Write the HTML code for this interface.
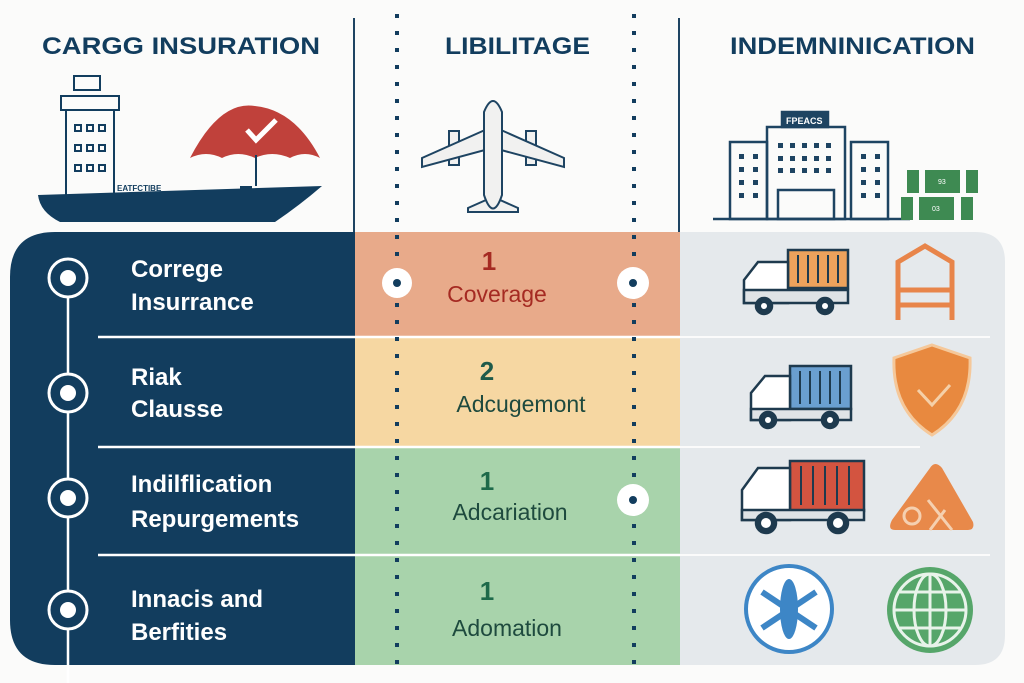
<!DOCTYPE html>
<html><head><meta charset="utf-8"><style>
body{margin:0;width:1024px;height:683px;background:#fbfbfa;overflow:hidden;font-family:"Liberation Sans",sans-serif;}
svg{position:absolute;left:0;top:0}
</style></head><body>
<svg width="1024" height="683" viewBox="0 0 1024 683">
<line x1="354" y1="18" x2="354" y2="232" stroke="#1e4462" stroke-width="2"/>
<line x1="679" y1="18" x2="679" y2="232" stroke="#1e4462" stroke-width="2"/>
<g font-weight="bold" font-size="24" fill="#123d5e">
<text x="42" y="54" textLength="278" lengthAdjust="spacingAndGlyphs">CARGG INSURATION</text>
<text x="445" y="54" textLength="145" lengthAdjust="spacingAndGlyphs">LIBILITAGE</text>
<text x="730" y="54" textLength="245" lengthAdjust="spacingAndGlyphs">INDEMNINICATION</text>
</g>
<path d="M38 195 L322 186 Q300 205 275 222 L60 222 Q40 212 38 195Z" fill="#123d5e"/>
<rect x="240" y="186" width="12" height="5" fill="#123d5e"/>
<g fill="none" stroke="#123d5e" stroke-width="2">
<rect x="74" y="76" width="26" height="14"/>
<rect x="61" y="96" width="58" height="14"/>
<path d="M66 110 L66 195 M114 110 L114 195"/>
</g>
<g fill="none" stroke="#123d5e" stroke-width="2">
<rect x="75" y="125" width="6" height="6"/><rect x="87" y="125" width="6" height="6"/><rect x="99" y="125" width="6" height="6"/>
<rect x="75" y="145" width="6" height="6"/><rect x="87" y="145" width="6" height="6"/><rect x="99" y="145" width="6" height="6"/>
<rect x="75" y="165" width="6" height="6"/><rect x="87" y="165" width="6" height="6"/><rect x="99" y="165" width="6" height="6"/>
</g>
<text x="117" y="191" font-size="8" font-weight="bold" fill="#123d5e">EATFCTIBE</text>
<path d="M190 158 Q220 100 255 106 Q295 110 320 158 Q305 150 290 158 Q272 150 255 158 Q238 150 222 158 Q206 150 190 158Z" fill="#c0413b"/>
<line x1="256" y1="155" x2="256" y2="186" stroke="#123d5e" stroke-width="2"/>
<path d="M247 130 L256 140 L276 120" stroke="#fff" stroke-width="5" fill="none"/>
<g fill="#f1f1f0" stroke="#1e4462" stroke-width="2">
<rect x="449" y="131" width="10" height="34"/><rect x="526" y="131" width="10" height="34"/>
<path d="M485 130 L422 158 L422 167 L485 150Z"/><path d="M501 130 L564 158 L564 167 L501 150Z"/>
<path d="M486 200 L468 208 L468 212 L518 212 L518 208 L500 200Z"/>
<path d="M484 112 Q493 90 502 112 L502 195 Q493 222 484 195Z"/>
</g>
<g fill="none" stroke="#1e4462" stroke-width="2.5">
<rect x="730" y="142" width="37" height="77"/><rect x="767" y="127" width="78" height="92"/><rect x="851" y="142" width="37" height="77"/>
<rect x="782" y="112" width="46" height="15" fill="#1e4462"/>
<rect x="778" y="190" width="56" height="29"/>
<line x1="713" y1="219" x2="910" y2="219"/>
</g>
<text x="786" y="124" font-size="9" fill="#fff" font-weight="bold">FPEACS</text>
<g fill="#1e4462">
<rect x="739" y="154" width="5" height="5"/><rect x="753" y="154" width="5" height="5"/>
<rect x="739" y="167" width="5" height="5"/><rect x="753" y="167" width="5" height="5"/>
<rect x="739" y="180" width="5" height="5"/><rect x="753" y="180" width="5" height="5"/>
<rect x="739" y="193" width="5" height="5"/><rect x="753" y="193" width="5" height="5"/>
<rect x="861" y="154" width="5" height="5"/><rect x="875" y="154" width="5" height="5"/>
<rect x="861" y="167" width="5" height="5"/><rect x="875" y="167" width="5" height="5"/>
<rect x="861" y="180" width="5" height="5"/><rect x="875" y="180" width="5" height="5"/>
<rect x="861" y="193" width="5" height="5"/><rect x="875" y="193" width="5" height="5"/>
<rect x="778" y="143" width="5" height="5"/><rect x="790" y="143" width="5" height="5"/><rect x="802" y="143" width="5" height="5"/><rect x="814" y="143" width="5" height="5"/><rect x="826" y="143" width="5" height="5"/>
<rect x="778" y="156" width="5" height="5"/><rect x="790" y="156" width="5" height="5"/><rect x="802" y="156" width="5" height="5"/><rect x="814" y="156" width="5" height="5"/><rect x="826" y="156" width="5" height="5"/>
<rect x="778" y="168" width="5" height="5"/><rect x="790" y="168" width="5" height="5"/><rect x="802" y="168" width="5" height="5"/><rect x="814" y="168" width="5" height="5"/><rect x="826" y="168" width="5" height="5"/>
</g>
<g fill="#3e8a52">
<rect x="907" y="170" width="12" height="23"/><rect x="925" y="170" width="35" height="23"/><rect x="966" y="170" width="12" height="23"/>
<rect x="901" y="197" width="12" height="23"/><rect x="919" y="197" width="35" height="23"/><rect x="961" y="197" width="12" height="23"/>
</g>
<text x="938" y="184" font-size="7" fill="#fff">93</text><text x="932" y="211" font-size="7" fill="#fff">03</text>
<path d="M680 232 L975 232 Q1005 232 1005 262 L1005 635 Q1005 665 975 665 L680 665Z" fill="#e5e9ec"/>
<path d="M55 232 L355 232 L355 665 L55 665 Q10 665 10 620 L10 277 Q10 232 55 232Z" fill="#123d5e"/>
<rect x="355" y="232" width="325" height="105" fill="#e8aa8a"/>
<rect x="355" y="337" width="325" height="110" fill="#f6d7a2"/>
<rect x="355" y="447" width="325" height="218" fill="#a8d3ab"/>
<g stroke="#fff" stroke-width="2.5">
<line x1="98" y1="337" x2="680" y2="337"/><line x1="98" y1="447" x2="680" y2="447"/><line x1="98" y1="555" x2="680" y2="555"/>
</g>
<g stroke="#fbfbfb" stroke-width="2">
<line x1="680" y1="337" x2="990" y2="337"/><line x1="680" y1="447" x2="920" y2="447"/><line x1="680" y1="555" x2="990" y2="555"/>
</g>
<g stroke="#123d5e" stroke-width="4" stroke-dasharray="4 13">
<line x1="397" y1="14" x2="397" y2="670"/><line x1="634" y1="14" x2="634" y2="670"/>
</g>
<line x1="68" y1="260" x2="68" y2="683" stroke="#fff" stroke-width="2.5"/>
<g fill="#123d5e" stroke="#fff" stroke-width="3">
<circle cx="68" cy="278" r="19"/><circle cx="68" cy="393" r="19"/><circle cx="68" cy="498" r="19"/><circle cx="68" cy="610" r="19"/>
</g>
<g fill="#fff"><circle cx="68" cy="278" r="8"/><circle cx="68" cy="393" r="8"/><circle cx="68" cy="498" r="8"/><circle cx="68" cy="610" r="8"/></g>
<g fill="#fff" font-weight="bold" font-size="24">
<text x="131" y="277">Correge</text><text x="131" y="310">Insurrance</text>
<text x="131" y="385">Riak</text><text x="131" y="417">Clausse</text>
<text x="131" y="492">Indilflication</text><text x="131" y="527">Repurgements</text>
<text x="131" y="607">Innacis and</text><text x="131" y="640">Berfities</text>
</g>
<g fill="#fff"><circle cx="397" cy="283" r="15"/><circle cx="633" cy="283" r="16"/><circle cx="633" cy="500" r="16"/></g>
<g fill="#123d5e"><circle cx="397" cy="283" r="4"/><circle cx="633" cy="283" r="4"/><circle cx="633" cy="500" r="4"/></g>
<g font-size="23" text-anchor="middle">
<text x="489" y="270" fill="#a52a22" font-weight="bold" font-size="26">1</text>
<text x="497" y="302" fill="#a52a22">Coverage</text>
<text x="487" y="380" fill="#1e5a4a" font-weight="bold" font-size="26">2</text>
<text x="521" y="412" fill="#1e4a3e">Adcugemont</text>
<text x="487" y="490" fill="#1e6a4a" font-weight="bold" font-size="26">1</text>
<text x="510" y="520" fill="#1e4a3e">Adcariation</text>
<text x="487" y="600" fill="#1e6a4a" font-weight="bold" font-size="26">1</text>
<text x="507" y="636" fill="#1e4a3e">Adomation</text>
</g>
<g stroke="#1e3a4e" stroke-width="2.5">
<rect x="788" y="250" width="60" height="38" fill="#eda25c"/>
<path d="M788 262 L758 262 L744 280 L744 303 L788 303Z" fill="#fff"/>
<rect x="744" y="290" width="104" height="13" fill="#dfe3e6"/>
<circle cx="764" cy="306" r="8" fill="#1e3a4e"/><circle cx="825" cy="306" r="8" fill="#1e3a4e"/>
<rect x="790" y="366" width="61" height="43" fill="#6a9fd0"/>
<path d="M790 376 L765 376 L751 393 L751 420 L790 420Z" fill="#fff"/>
<rect x="751" y="409" width="100" height="11" fill="#dfe3e6"/>
<circle cx="768" cy="420" r="8" fill="#1e3a4e"/><circle cx="830" cy="420" r="8" fill="#1e3a4e"/>
<rect x="790" y="461" width="74" height="50" fill="#d35440"/>
<path d="M790 468 L758 468 L742 490 L742 520 L790 520Z" fill="#fff"/>
<rect x="742" y="510" width="122" height="10" fill="#dfe3e6"/>
<circle cx="766" cy="523" r="10" fill="#1e3a4e"/><circle cx="838" cy="523" r="10" fill="#1e3a4e"/>
</g>
<g fill="#fff"><circle cx="764" cy="306" r="3"/><circle cx="825" cy="306" r="3"/><circle cx="768" cy="420" r="3"/><circle cx="830" cy="420" r="3"/><circle cx="766" cy="523" r="5"/><circle cx="838" cy="523" r="5"/></g>
<g stroke="#1e3a4e" stroke-width="2">
<path d="M798 255 V283 M808 255 V283 M818 255 V283 M828 255 V283 M838 255 V283"/>
<path d="M800 371 V404 M810 371 V404 M820 371 V404 M830 371 V404 M840 371 V404"/>
<path d="M801 466 V505 M813 466 V505 M825 466 V505 M837 466 V505 M849 466 V505"/>
</g>
<g stroke="#e8854a" stroke-width="5" fill="none">
<path d="M898 320 L898 262 L925 246 L952 262 L952 320"/><line x1="898" y1="290" x2="952" y2="290"/><line x1="898" y1="305" x2="952" y2="305"/>
</g>
<path d="M932 345 L970 358 Q972 410 932 435 Q892 410 894 358Z" fill="#e8893f" stroke="#f5c89a" stroke-width="3"/>
<path d="M918 390 L932 405 L950 385" stroke="#f5d0a8" stroke-width="3" fill="none"/>
<path d="M930 468 Q935 460 942 468 L973 522 Q975 530 968 530 L895 530 Q887 530 892 520Z" fill="#e8894a"/>
<circle cx="912" cy="516" r="8" fill="none" stroke="#f5d0b0" stroke-width="3"/>
<path d="M928 500 L952 530 M945 510 L930 530" stroke="#f5d0b0" stroke-width="3"/>
<circle cx="789" cy="609" r="43" fill="#fff" stroke="#3d86c6" stroke-width="4"/>
<ellipse cx="789" cy="609" rx="9" ry="30" fill="#3d86c6"/>
<path d="M762 592 L816 628 M816 592 L762 628" stroke="#3d86c6" stroke-width="6"/>
<circle cx="930" cy="610" r="43" fill="#56a66a"/>
<g stroke="#e8f3ea" stroke-width="3" fill="none">
<circle cx="930" cy="610" r="36"/><ellipse cx="930" cy="610" rx="16" ry="36"/>
<line x1="930" y1="574" x2="930" y2="646"/><line x1="894" y1="610" x2="966" y2="610"/>
<line x1="900" y1="592" x2="960" y2="592"/><line x1="900" y1="628" x2="960" y2="628"/>
</g>
</svg>
</body></html>
